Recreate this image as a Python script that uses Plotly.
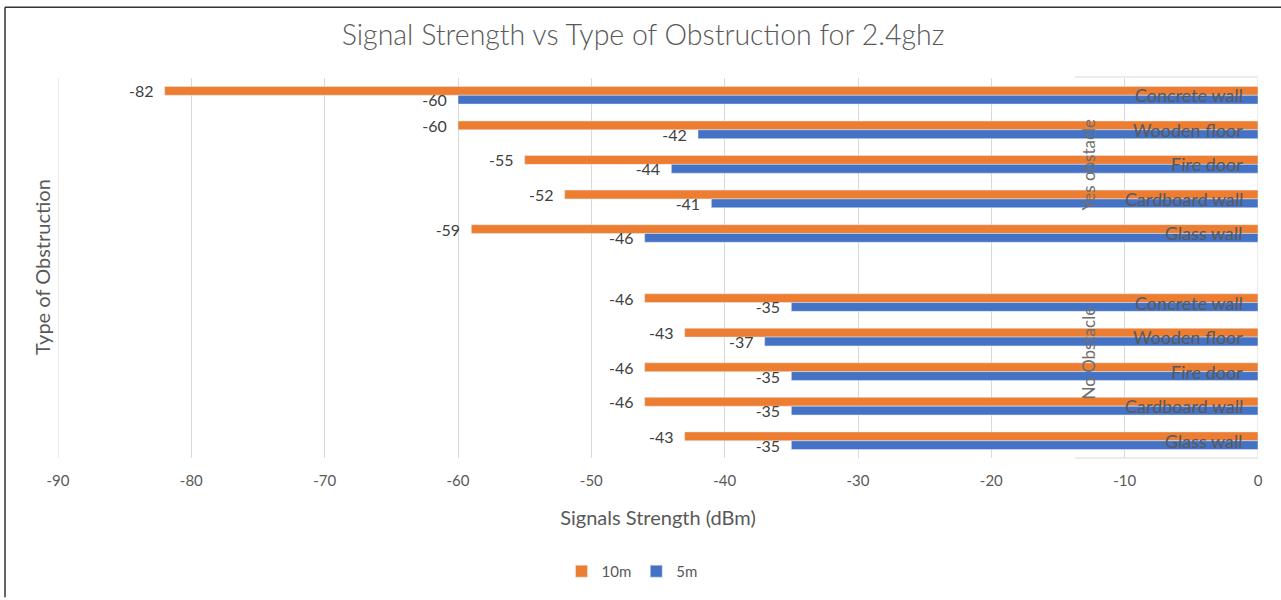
import plotly.graph_objects as go

groups = ["Yes obstacle"] * 5 + [""] + ["No Obstacle"] * 5
categories = ["Concrete wall", "Wooden floor", "Fire door", "Cardboard wall", "Glass wall", "",
              "Concrete wall", "Wooden floor", "Fire door", "Cardboard wall", "Glass wall"]
values_10m = [-82, -60, -55, -52, -59, None, -46, -43, -46, -46, -43]
values_5m = [-60, -42, -44, -41, -46, None, -35, -37, -35, -35, -35]
x_ticks = [-90, -80, -70, -60, -50, -40, -30, -20, -10, 0]

ids = [f"{g}|{c}|{i}" for i, (g, c) in enumerate(zip(groups, categories))]

FONT = "Lato, 'Open Sans', sans-serif"
GREY = "#595959"
PAD = "\u00a0\u00a0"

def lbl(vals):
    return ["" if v is None else str(v) + PAD for v in vals]

fig = go.Figure()
for name, vals, col in [("10m", values_10m, "#ED7D31"), ("5m", values_5m, "#4472C4")]:
    fig.add_trace(go.Bar(y=ids, x=vals, orientation="h", name=name,
                         marker_color=col, text=lbl(vals),
                         textposition="outside", cliponaxis=False, constraintext="none",
                         textfont=dict(size=16, color="#404040", family=FONT)))

L, R, T, B = 58, 23, 78, 140
W, H = 1281, 600
pw, ph = W - L - R, H - T - B

def px(x):
    return (x - L) / pw

def py(y):
    return (H - B - y) / ph

fig.update_layout(
    width=W, height=H,
    margin=dict(l=L, r=R, t=T, b=B),
    paper_bgcolor="white", plot_bgcolor="white",
    font=dict(family=FONT, color=GREY),
    barmode="group", bargap=0.49, bargroupgap=0,
    title=dict(text="Signal Strength vs Type of Obstruction for 2.4ghz",
               x=(643) / W, xanchor="center", y=1 - 35 / H, yanchor="middle",
               font=dict(size=28.5, color=GREY, family=FONT, weight=300)),
    xaxis=dict(range=[-90, 0], tickvals=x_ticks,
               ticktext=[str(v) for v in x_ticks],
               showgrid=True, gridcolor="#D9D9D9",
               gridwidth=1, zeroline=False, showline=False, ticks="",
               ticklabelstandoff=12,
               tickfont=dict(size=15, color=GREY),
               title=dict(text="Signals Strength (dBm)", font=dict(size=20, color=GREY),
                          standoff=22)),
    yaxis=dict(type="category", categoryorder="array", categoryarray=ids,
               autorange="reversed", showticklabels=False, ticks="", showgrid=False,
               zeroline=False, showline=False),
    legend=dict(orientation="h", x=px(632), xanchor="center", y=py(574), yanchor="middle",
                font=dict(size=15, color=GREY), itemwidth=30, traceorder="normal"),
    showlegend=True,
)

annotations = [
    dict(text="Type of Obstruction", xref="paper", yref="paper", x=px(42), y=py(268),
         textangle=-90, showarrow=False, font=dict(size=20, color=GREY),
         xanchor="center", yanchor="middle"),
    dict(text="Yes obstacle", xref="paper", yref="paper", x=px(1089), y=py(165),
         textangle=-90, showarrow=False, font=dict(size=17, color="#6f6f6f"),
         xanchor="center", yanchor="middle"),
    dict(text="No Obstacle", xref="paper", yref="paper", x=px(1089), y=py(355),
         textangle=-90, showarrow=False, font=dict(size=17, color="#6f6f6f"),
         xanchor="center", yanchor="middle"),
]
for yid, cat in zip(ids, categories):
    if cat:
        annotations.append(dict(text=cat, xref="paper", yref="y", x=px(1245), y=yid,
                                showarrow=False, font=dict(size=18, color=GREY),
                                xanchor="right", yanchor="middle"))
fig.update_layout(annotations=annotations)

shapes = [
    dict(type="line", xref="x", yref="paper", x0=x_ticks[0], x1=x_ticks[0], y0=0, y1=1,
         line=dict(color="#D9D9D9", width=1), layer="below"),
    dict(type="line", xref="x", yref="paper", x0=x_ticks[-1], x1=x_ticks[-1], y0=0, y1=1,
         line=dict(color="#D9D9D9", width=1), layer="below"),
    dict(type="line", xref="paper", yref="paper", x0=px(1075), x1=1, y0=py(77), y1=py(77),
         line=dict(color="#D9D9D9", width=1)),
    dict(type="line", xref="paper", yref="paper", x0=px(1075), x1=1, y0=0, y1=0,
         line=dict(color="#D9D9D9", width=1)),
    dict(type="line", xref="paper", yref="paper", x0=px(5), x1=px(5), y0=py(7), y1=py(600),
         line=dict(color="#333333", width=1.5)),
    dict(type="line", xref="paper", yref="paper", x0=px(5), x1=px(1281), y0=py(7), y1=py(7),
         line=dict(color="#333333", width=1.5)),
]
fig.update_layout(shapes=shapes)

fig.write_html("out.html")
